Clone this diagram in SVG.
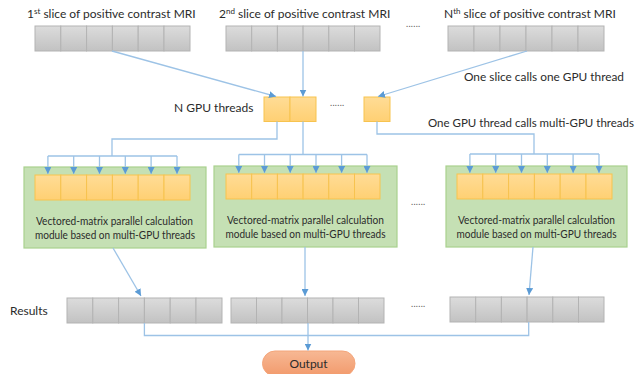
<svg xmlns="http://www.w3.org/2000/svg" width="641" height="374" viewBox="0 0 641 374">
<defs>
<linearGradient id="gGray" x1="0" y1="0" x2="0" y2="1"><stop offset="0" stop-color="#dcdcdc"/><stop offset="1" stop-color="#c2c2c2"/></linearGradient>
<linearGradient id="gOrange" x1="0" y1="0" x2="0" y2="1"><stop offset="0" stop-color="#ffdc96"/><stop offset="1" stop-color="#ffd073"/></linearGradient>
<linearGradient id="gOut" x1="0" y1="0" x2="0" y2="1"><stop offset="0" stop-color="#f7b894"/><stop offset="1" stop-color="#f29a6c"/></linearGradient>
<marker id="ah" viewBox="0 0 10 10" refX="10" refY="5" markerWidth="7" markerHeight="7" markerUnits="userSpaceOnUse" orient="auto"><path d="M0,0 L10,5 L0,10 z" fill="#5b9bd5"/></marker>
<style>
text{font-family:Lato,"Liberation Sans",sans-serif;fill:#2b2b2b;font-size:12px}
.gc{fill:url(#gGray);stroke:#b3b3b3;stroke-width:1}
.oc{fill:url(#gOrange);stroke:#f7c34f;stroke-width:1}
.gb{fill:#c5e0b4;stroke:#a9d18e;stroke-width:1.2}
.c{fill:none;stroke:#9dc3e6;stroke-width:1.3}
.a{marker-end:url(#ah)}
.dots{font-size:9px;fill:#595959;letter-spacing:0.3px}
.mid{text-anchor:middle}
.mt{font-size:11px}
</style>
</defs>

<g id="labels">
<text x="27" y="18">1<tspan font-size="8" dy="-4">st</tspan><tspan dy="4"> slice of positive contrast MRI</tspan></text>
<text x="219" y="18">2<tspan font-size="8" dy="-4">nd</tspan><tspan dy="4"> slice of positive contrast MRI</tspan></text>
<text x="444" y="18">N<tspan font-size="8" dy="-4">th</tspan><tspan dy="4"> slice of positive contrast MRI</tspan></text>
<text class="dots" x="406" y="27">......</text>
<text x="464" y="81" textLength="160" lengthAdjust="spacingAndGlyphs">One slice calls one GPU thread</text>
<text x="174" y="112">N GPU threads</text>
<text class="dots" x="330" y="106">......</text>
<text x="428" y="127" font-size="10.5" textLength="206" lengthAdjust="spacingAndGlyphs">One GPU thread calls multi-GPU threads</text>
<text class="dots" x="411" y="205">......</text>
<text x="10" y="315">Results</text>
<text class="dots" x="411" y="307">......</text>
</g>

<g id="slice1">
<rect class="gc" x="35" y="26" width="25.8" height="25"/><rect class="gc" x="60.8" y="26" width="25.8" height="25"/><rect class="gc" x="86.6" y="26" width="25.8" height="25"/><rect class="gc" x="112.4" y="26" width="25.8" height="25"/><rect class="gc" x="138.2" y="26" width="25.8" height="25"/><rect class="gc" x="164" y="26" width="26" height="25"/>
</g>
<g id="slice2">
<rect class="gc" x="226" y="26" width="25.7" height="25"/><rect class="gc" x="251.7" y="26" width="25.7" height="25"/><rect class="gc" x="277.4" y="26" width="25.7" height="25"/><rect class="gc" x="303.1" y="26" width="25.7" height="25"/><rect class="gc" x="328.8" y="26" width="25.7" height="25"/><rect class="gc" x="354.5" y="26" width="25.5" height="25"/>
</g>
<g id="sliceN">
<rect class="gc" x="448" y="26" width="26" height="25"/><rect class="gc" x="474" y="26" width="26" height="25"/><rect class="gc" x="500" y="26" width="26" height="25"/><rect class="gc" x="526" y="26" width="26" height="25"/><rect class="gc" x="552" y="26" width="26" height="25"/><rect class="gc" x="578" y="26" width="26" height="25"/>
</g>

<g id="gpu-threads">
<rect class="oc" x="264" y="97" width="26" height="24.5"/><rect class="oc" x="290" y="97" width="26" height="24.5"/>
<rect class="oc" x="364" y="97" width="26" height="24.5"/>
</g>

<g id="module1">
<rect class="gb" x="24" y="167" width="182" height="81"/>
<rect class="oc" x="35" y="175" width="25.8" height="25"/><rect class="oc" x="60.8" y="175" width="25.8" height="25"/><rect class="oc" x="86.6" y="175" width="25.8" height="25"/><rect class="oc" x="112.4" y="175" width="25.8" height="25"/><rect class="oc" x="138.2" y="175" width="25.8" height="25"/><rect class="oc" x="164" y="175" width="26" height="25"/>
<text class="mt" x="36" y="225" textLength="157" lengthAdjust="spacingAndGlyphs">Vectored-matrix parallel calculation</text>
<text class="mt" x="35" y="238.5" textLength="160" lengthAdjust="spacingAndGlyphs">module based on multi-GPU threads</text>
</g>
<g id="module2">
<rect class="gb" x="214" y="166" width="183" height="81"/>
<rect class="oc" x="226" y="174" width="25.7" height="25"/><rect class="oc" x="251.7" y="174" width="25.7" height="25"/><rect class="oc" x="277.4" y="174" width="25.7" height="25"/><rect class="oc" x="303.1" y="174" width="25.7" height="25"/><rect class="oc" x="328.8" y="174" width="25.7" height="25"/><rect class="oc" x="354.5" y="174" width="25.5" height="25"/>
<text class="mt" x="227" y="224" textLength="157" lengthAdjust="spacingAndGlyphs">Vectored-matrix parallel calculation</text>
<text class="mt" x="225.5" y="237.5" textLength="160" lengthAdjust="spacingAndGlyphs">module based on multi-GPU threads</text>
</g>
<g id="moduleN">
<rect class="gb" x="446" y="166" width="181" height="81"/>
<rect class="oc" x="457" y="174" width="25.8" height="25"/><rect class="oc" x="482.8" y="174" width="25.8" height="25"/><rect class="oc" x="508.6" y="174" width="25.8" height="25"/><rect class="oc" x="534.4" y="174" width="25.8" height="25"/><rect class="oc" x="560.2" y="174" width="25.8" height="25"/><rect class="oc" x="586" y="174" width="26" height="25"/>
<text class="mt" x="458" y="224" textLength="157" lengthAdjust="spacingAndGlyphs">Vectored-matrix parallel calculation</text>
<text class="mt" x="456.5" y="237.5" textLength="160" lengthAdjust="spacingAndGlyphs">module based on multi-GPU threads</text>
</g>

<g id="result1">
<rect class="gc" x="67" y="298" width="25.8" height="25"/><rect class="gc" x="92.8" y="298" width="25.8" height="25"/><rect class="gc" x="118.6" y="298" width="25.8" height="25"/><rect class="gc" x="144.4" y="298" width="25.8" height="25"/><rect class="gc" x="170.2" y="298" width="25.8" height="25"/><rect class="gc" x="196" y="298" width="26" height="25"/>
</g>
<g id="result2">
<rect class="gc" x="231" y="298" width="25.5" height="25"/><rect class="gc" x="256.5" y="298" width="25.5" height="25"/><rect class="gc" x="282" y="298" width="25.5" height="25"/><rect class="gc" x="307.5" y="298" width="25.5" height="25"/><rect class="gc" x="333" y="298" width="25.5" height="25"/><rect class="gc" x="358.5" y="298" width="25.5" height="25"/>
</g>
<g id="resultN">
<rect class="gc" x="450" y="297" width="25.7" height="25"/><rect class="gc" x="475.7" y="297" width="25.7" height="25"/><rect class="gc" x="501.4" y="297" width="25.7" height="25"/><rect class="gc" x="527.1" y="297" width="25.7" height="25"/><rect class="gc" x="552.8" y="297" width="25.7" height="25"/><rect class="gc" x="578.5" y="297" width="25.5" height="25"/>
</g>

<g id="output">
<rect x="262.5" y="351" width="92.5" height="25" rx="12.5" fill="url(#gOut)" stroke="#f4a57a" stroke-width="1"/>
<text class="mid" x="308.5" y="367.5">Output</text>
</g>

<g id="connectors">
<line class="c a" x1="112" y1="51" x2="276" y2="96.5"/>
<line class="c a" x1="303" y1="51" x2="303" y2="96.5"/>
<line class="c a" x1="527" y1="51" x2="378" y2="96.5"/>

<polyline class="c" points="277,121.5 277,139 112,139 112,156"/>
<line class="c" x1="47.9" y1="156" x2="177" y2="156"/>
<line class="c a" x1="47.9" y1="156" x2="47.9" y2="174"/>
<line class="c a" x1="73.7" y1="156" x2="73.7" y2="174"/>
<line class="c a" x1="99.5" y1="156" x2="99.5" y2="174"/>
<line class="c a" x1="125.3" y1="156" x2="125.3" y2="174"/>
<line class="c a" x1="151.1" y1="156" x2="151.1" y2="174"/>
<line class="c a" x1="177" y1="156" x2="177" y2="174"/>

<line class="c" x1="303" y1="121.5" x2="303" y2="154.5"/>
<line class="c" x1="238.8" y1="154.5" x2="367" y2="154.5"/>
<line class="c a" x1="238.8" y1="154.5" x2="238.8" y2="173"/>
<line class="c a" x1="264.5" y1="154.5" x2="264.5" y2="173"/>
<line class="c a" x1="290.2" y1="154.5" x2="290.2" y2="173"/>
<line class="c a" x1="316" y1="154.5" x2="316" y2="173"/>
<line class="c a" x1="341.6" y1="154.5" x2="341.6" y2="173"/>
<line class="c a" x1="367" y1="154.5" x2="367" y2="173"/>

<polyline class="c" points="377,121.5 377,134 534,134 534,154"/>
<line class="c" x1="469.9" y1="154" x2="599" y2="154"/>
<line class="c a" x1="469.9" y1="154" x2="469.9" y2="173"/>
<line class="c a" x1="495.7" y1="154" x2="495.7" y2="173"/>
<line class="c a" x1="521.5" y1="154" x2="521.5" y2="173"/>
<line class="c a" x1="547.3" y1="154" x2="547.3" y2="173"/>
<line class="c a" x1="573.1" y1="154" x2="573.1" y2="173"/>
<line class="c a" x1="599" y1="154" x2="599" y2="173"/>

<line class="c a" x1="113" y1="248" x2="141" y2="296"/>
<line class="c a" x1="305" y1="247" x2="305" y2="296"/>
<line class="c a" x1="533" y1="247" x2="529" y2="295"/>

<polyline class="c" points="144.4,323 144.4,335.5 528.7,335.5 528.7,322"/>
<line class="c a" x1="308" y1="323" x2="308" y2="350.5"/>
</g>
</svg>
